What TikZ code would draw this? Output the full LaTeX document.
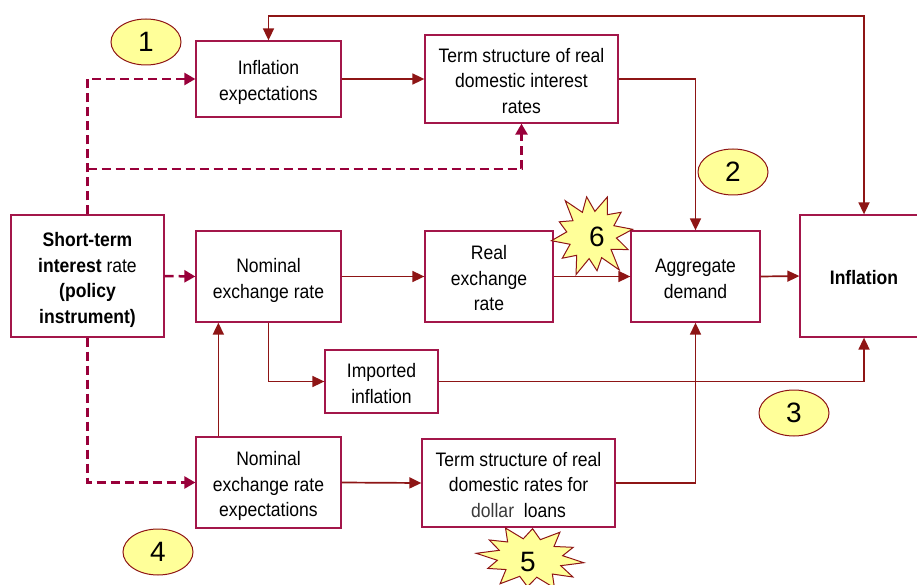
\documentclass[tikz,border=0pt]{standalone}
\usepackage{fontspec}
\setmainfont{Liberation Sans}[FakeStretch=0.9]
\newfontfamily\numfont{Liberation Sans}
\usetikzlibrary{arrows.meta,shapes.geometric}
\definecolor{boxc}{HTML}{A3164A}
\definecolor{arrc}{HTML}{8E1515}
\definecolor{dashc}{HTML}{99003A}
\definecolor{yel}{HTML}{FFFF99}
\definecolor{dgray}{HTML}{3A3A3A}
\newcommand{\lf}{\rule{0pt}{23.25pt}}
\newcommand{\lz}{\rule[-5.75pt]{0pt}{5.75pt}}
\tikzset{
  box/.style={draw=boxc, line width=1.3pt, fill=white, align=center, inner sep=0pt,
    font=\fontsize{19.5}{25.5}\selectfont},
  arr/.style={draw=arrc, line width=1.7pt, -{Triangle[length=12pt,width=11pt]}},
  darr/.style={draw=dashc, line width=2.5pt, dash pattern=on 9pt off 5pt,
    -{Triangle[length=11pt,width=12pt]}},
  badge/.style={ellipse, draw=arrc, line width=1pt, fill=yel, minimum width=70pt,
    minimum height=46pt, inner sep=0pt, font=\numfont\fontsize{28}{28}\selectfont},
  starb/.style={draw=arrc, line width=1pt, fill=yel},
  numlab/.style={inner sep=0pt, font=\numfont\fontsize{28}{28}\selectfont}
}
\begin{document}
\begin{tikzpicture}[x=1pt,y=-1pt]
\useasboundingbox (0,0) rectangle (917,585);
% boxes
\node[box, minimum width=153pt, minimum height=122pt] (st) at (87.5,276)
  {\lf\textbf{Short-term}\\\textbf{interest} rate\\\textbf{(policy}\\\lz\textbf{instrument)}};
\node[box, minimum width=145pt, minimum height=76pt] (ie) at (268.5,79) {\lf Inflation\\\lz expectations};
\node[box, minimum width=193pt, minimum height=88pt] (ts) at (521.5,79) {\lf Term structure of real\\domestic interest\\\lz rates};
\node[box, minimum width=145pt, minimum height=91pt] (ner) at (268.5,276.5) {\lf Nominal\\\lz exchange rate};
\node[box, minimum width=128pt, minimum height=91pt] (rer) at (489,276.5) {\lf Real\\exchange\\\lz rate};
\node[box, minimum width=129pt, minimum height=91pt] (ad) at (695.5,276.5) {\lf Aggregate\\\lz demand};
\node[box, minimum width=128pt, minimum height=122pt] (infl) at (864,276) {\lf\lz\textbf{Inflation}};
\node[box, minimum width=113pt, minimum height=63pt] (imp) at (381.5,381.5) {\lf Imported\\\lz inflation};
\node[box, minimum width=145pt, minimum height=91pt] (nere) at (268.5,482.5) {\lf Nominal\\exchange rate\\\lz expectations};
\node[box, minimum width=193pt, minimum height=88pt] (tsd) at (518.5,483) {\lf Term structure of real\\domestic rates for\\\lz{\color{dgray}dollar}\ \ loans};
% badges
\node[badge] (e1) at (146,42) {1};
\node[badge] (e2) at (733,172) {2};
\node[badge] (e3) at (794,413) {3};
\node[badge] (e4) at (158,552) {4};
% starbursts
\begin{scope}[shift={(592,235)}, x=41pt, y=-41pt, rotate=8]
\path[starb] (0:1)
  \foreach \a/\r in {15/0.6,30/0.95,45/0.58,60/1.08,75/0.6,90/0.88,105/0.58,120/1.04,135/0.62,150/0.92,165/0.58,180/1.0,195/0.62,210/0.86,225/0.58,240/1.06,255/0.6,270/0.94,285/0.58,300/1.0,315/0.62,330/0.9,345/0.58} { -- (\a:\r) } -- cycle;
\end{scope}
\node[numlab] (s6) at (597,237) {6};
\begin{scope}[shift={(530,558)}, x=54pt, y=-32pt, rotate=-5]
\path[starb] (0:1)
  \foreach \a/\r in {15/0.6,30/0.95,45/0.62,60/1.0,75/0.6,90/0.9,105/0.62,120/1.02,135/0.6,150/0.88,165/0.62,180/1.0,195/0.6,210/0.9,225/0.62,240/1.0,255/0.6,270/0.92,285/0.62,300/1.02,315/0.6,330/0.9,345/0.62} { -- (\a:\r) } -- cycle;
\end{scope}
\node[numlab] (s5) at (528,562) {5};
% solid connectors
\draw[arr, {Triangle[length=12pt,width=11pt]}-{Triangle[length=12pt,width=11pt]}]
  (ie.north) -- (ie.north |- 0,16) -| (infl.north);
\draw[arr] (ie.east) -- (ts.west);
\draw[arr] (ts.east) -| (ad.north);
\draw[arr] (ner.east) -- (rer.west);
\draw[arr] (rer.east) -- (ad.west);
\draw[arr] (ad.east) -- (infl.west);
\draw[arr] (ner.south) |- (imp.west);
\draw[arr] (imp.east) -| (infl.south);
\draw[arr] ([xshift=23pt]nere.north west) -- ([xshift=23pt]ner.south west);
\draw[arr] (nere.east) -- (tsd.west);
\draw[arr] (tsd.east) -| (ad.south);
% dashed connectors
\coordinate (j1) at (st.north |- 0,169);
\draw[darr] (st.north) |- (ie.west);
\draw[darr] (j1) -| (ts.south);
\draw[darr] (st.east) -- (ner.west);
\draw[darr] (st.south) |- (nere.west);
\end{tikzpicture}
\end{document}
